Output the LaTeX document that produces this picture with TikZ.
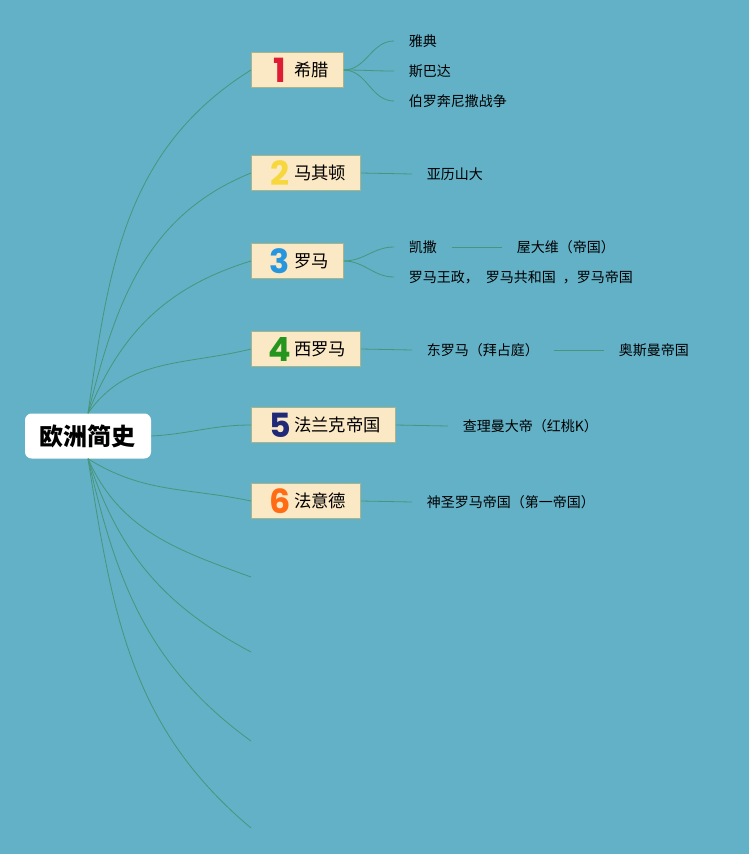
\documentclass[tikz,border=0pt]{standalone}
\usepackage{fontspec}
\setmainfont{Noto Sans CJK SC}
\newfontfamily\numfont{Poppins}
\usetikzlibrary{positioning}
\definecolor{bgcolor}{RGB}{98,177,199}
\definecolor{branchcolor}{RGB}{72,150,122}
\definecolor{topicfill}{RGB}{251,232,197}
\definecolor{topicdraw}{RGB}{168,180,140}
\definecolor{numred}{RGB}{222,28,52}
\definecolor{numyellow}{RGB}{246,216,62}
\definecolor{numblue}{RGB}{38,150,222}
\definecolor{numgreen}{RGB}{36,150,30}
\definecolor{numnavy}{RGB}{32,40,120}
\definecolor{numorange}{RGB}{255,108,20}
\newcommand{\topicnum}[2]{\makebox[21pt][c]{\raisebox{\dimexpr5pt-0.5\height\relax}{\numfont\bfseries\fontsize{25}{25}\selectfont\color{#1}#2}}}

\begin{document}
\begin{tikzpicture}[
				x=0.75pt,
				y=0.75pt,
				root/.style={
					fill=white,
					rounded corners=5pt,
					minimum width=94.5pt,
					minimum height=33.75pt,
					font=\bfseries\fontsize{18}{20}\selectfont
				},
				topic/.style={
					anchor=west,
					fill=topicfill,
					draw=topicdraw,
					line width=0.6pt,
					inner xsep=11pt,
					inner ysep=1pt,
					minimum height=26.25pt,
					font=\fontsize{13}{15}\selectfont
				},
				sub/.style={
					anchor=west,
					inner xsep=11pt,
					font=\fontsize{10.5}{12}\selectfont
				},
				branch/.style={
					draw=branchcolor,
					line width=0.6pt
				}
				]
				\fill[bgcolor] (0,0) rectangle (749,-854);
				\useasboundingbox (0,0) rectangle (749,-854);
				
				\node[root] (root) at (88,-436) {欧洲简史};
				
				\node[topic] (b1) at (251,-70) {\topicnum{numred}{1}希腊};
				\node[topic] (b2) at (251,-173) {\topicnum{numyellow}{2}马其顿};
				\node[topic] (b3) at (251,-261) {\topicnum{numblue}{3}罗马};
				\node[topic] (b4) at (251,-349) {\topicnum{numgreen}{4}西罗马};
				\node[topic] (b5) at (251,-425) {\topicnum{numnavy}{5}法兰克帝国};
				\node[topic] (b6) at (251,-501) {\topicnum{numorange}{6}法意德};
				
				\coordinate (f1) at (251,-577);
				\coordinate (f2) at (251,-652);
				\coordinate (f3) at (251,-741);
				\coordinate (f4) at (251,-828);
				
				\node[sub] (c11) at (394,-41) {雅典};
				\node[sub] (c12) at (394,-71) {斯巴达};
				\node[sub] (c13) at (394,-101) {伯罗奔尼撒战争};
				\node[sub] (c21) at (412,-174) {亚历山大};
				\node[sub] (c31) at (394,-247) {凯撒};
				\node[sub] (c32) at (394,-277) {罗马王政，\enspace 罗马共和国\enspace ，罗马帝国};
				\node[sub] (c311) at (502,-247) {屋大维（帝国）};
				\node[sub] (c41) at (412,-350) {东罗马（拜占庭）};
				\node[sub] (c411) at (604,-350) {奥斯曼帝国};
				\node[sub] (c51) at (448,-426) {查理曼大帝（红桃K）};
				\node[sub] (c61) at (412,-502) {神圣罗马帝国（第一帝国）};
				
				\draw[branch] (root.north) to[out=82,in=-148] (b1.west);
				\draw[branch] (root.north) to[out=76,in=-158] (b2.west);
				\draw[branch] (root.north) to[out=68,in=-163] (b3.west);
				\draw[branch] (root.north) to[out=55,in=-166] (b4.west);
				\draw[branch] (root.east) to[out=3,in=180] (b5.west);
				\draw[branch] (root.south) to[out=-32,in=168] (b6.west);
				\draw[branch] (root.south) to[out=-66,in=160] (f1);
				\draw[branch] (root.south) to[out=-72,in=152] (f2);
				\draw[branch] (root.south) to[out=-77,in=144] (f3);
				\draw[branch] (root.south) to[out=-81,in=140] (f4);
				
				\draw[branch] (b1.east) to[out=0,in=180] (c11.west);
				\draw[branch] (b1.east) to[out=0,in=180] (c12.west);
				\draw[branch] (b1.east) to[out=0,in=180] (c13.west);
				\draw[branch] (b2.east) -- (c21.west);
				\draw[branch] (b3.east) to[out=0,in=180] (c31.west);
				\draw[branch] (b3.east) to[out=0,in=180] (c32.west);
				\draw[branch] (c31.east) -- (c311.west);
				\draw[branch] (b4.east) -- (c41.west);
				\draw[branch] (c41.east) -- (c411.west);
				\draw[branch] (b5.east) -- (c51.west);
				\draw[branch] (b6.east) -- (c61.west);
			\end{tikzpicture}
\end{document}
